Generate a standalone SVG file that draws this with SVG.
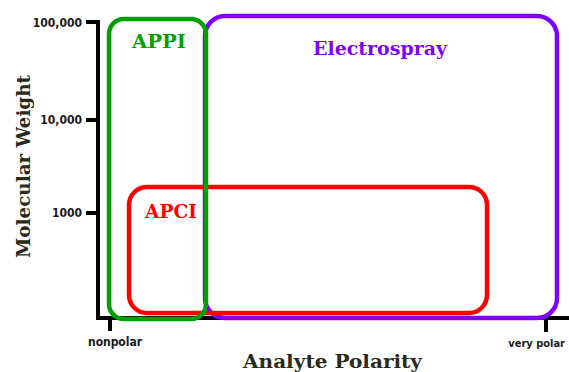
<svg xmlns="http://www.w3.org/2000/svg" width="569" height="372" viewBox="0 0 569 372">
<style>
.ax{stroke:#000;stroke-width:4;fill:none}
.tick{font-family:"DejaVu Sans Condensed","Liberation Sans",sans-serif;font-weight:bold;font-size:12px;fill:#1a1a1a}
.ttl{font-family:"DejaVu Serif","Liberation Serif",serif;font-weight:bold;font-size:18px;fill:#2a2a1a}
.lbl{font-family:"DejaVu Serif","Liberation Serif",serif;font-weight:bold;font-size:18px}
.box{fill:none;stroke-width:4.5}
</style>
<rect width="569" height="372" fill="#fff"/>
<g id="axes">
<path class="ax" d="M86,22 H98 V318 H569"/>
<path class="ax" d="M86,120 H98 M86,213 H98 M110,318 V331 M546,318 V332"/>
<text class="tick" x="82" y="27" text-anchor="end">100,000</text>
<text class="tick" x="82" y="124" text-anchor="end">10,000</text>
<text class="tick" x="82" y="217" text-anchor="end">1000</text>
<text class="tick" x="88" y="346" textLength="54">nonpolar</text>
<text class="tick" x="565" y="347" text-anchor="end" style="font-size:11px">very polar</text>
<text class="ttl" x="243" y="368" textLength="179" lengthAdjust="spacingAndGlyphs">Analyte Polarity</text>
<text class="ttl" transform="translate(30,258) rotate(-90)" textLength="183" lengthAdjust="spacingAndGlyphs">Molecular Weight</text>
</g>
<g id="electrospray">
<rect class="box" x="205" y="16" width="352" height="302" rx="20" stroke="#7f00ff"/>
<text class="lbl" x="313" y="55" textLength="134" lengthAdjust="spacingAndGlyphs" fill="#7f00ff">Electrospray</text>
</g>
<g id="apci">
<rect class="box" x="129" y="187" width="358" height="126" rx="18" stroke="#ff0000"/>
<text class="lbl" x="145" y="218" textLength="52" lengthAdjust="spacingAndGlyphs" fill="#ff0000">APCI</text>
</g>
<g id="appi">
<rect class="box" x="109" y="19" width="97" height="300" rx="15" stroke="#00a000"/>
<text class="lbl" x="132" y="48" textLength="54" lengthAdjust="spacingAndGlyphs" fill="#00a000">APPI</text>
</g>
</svg>
